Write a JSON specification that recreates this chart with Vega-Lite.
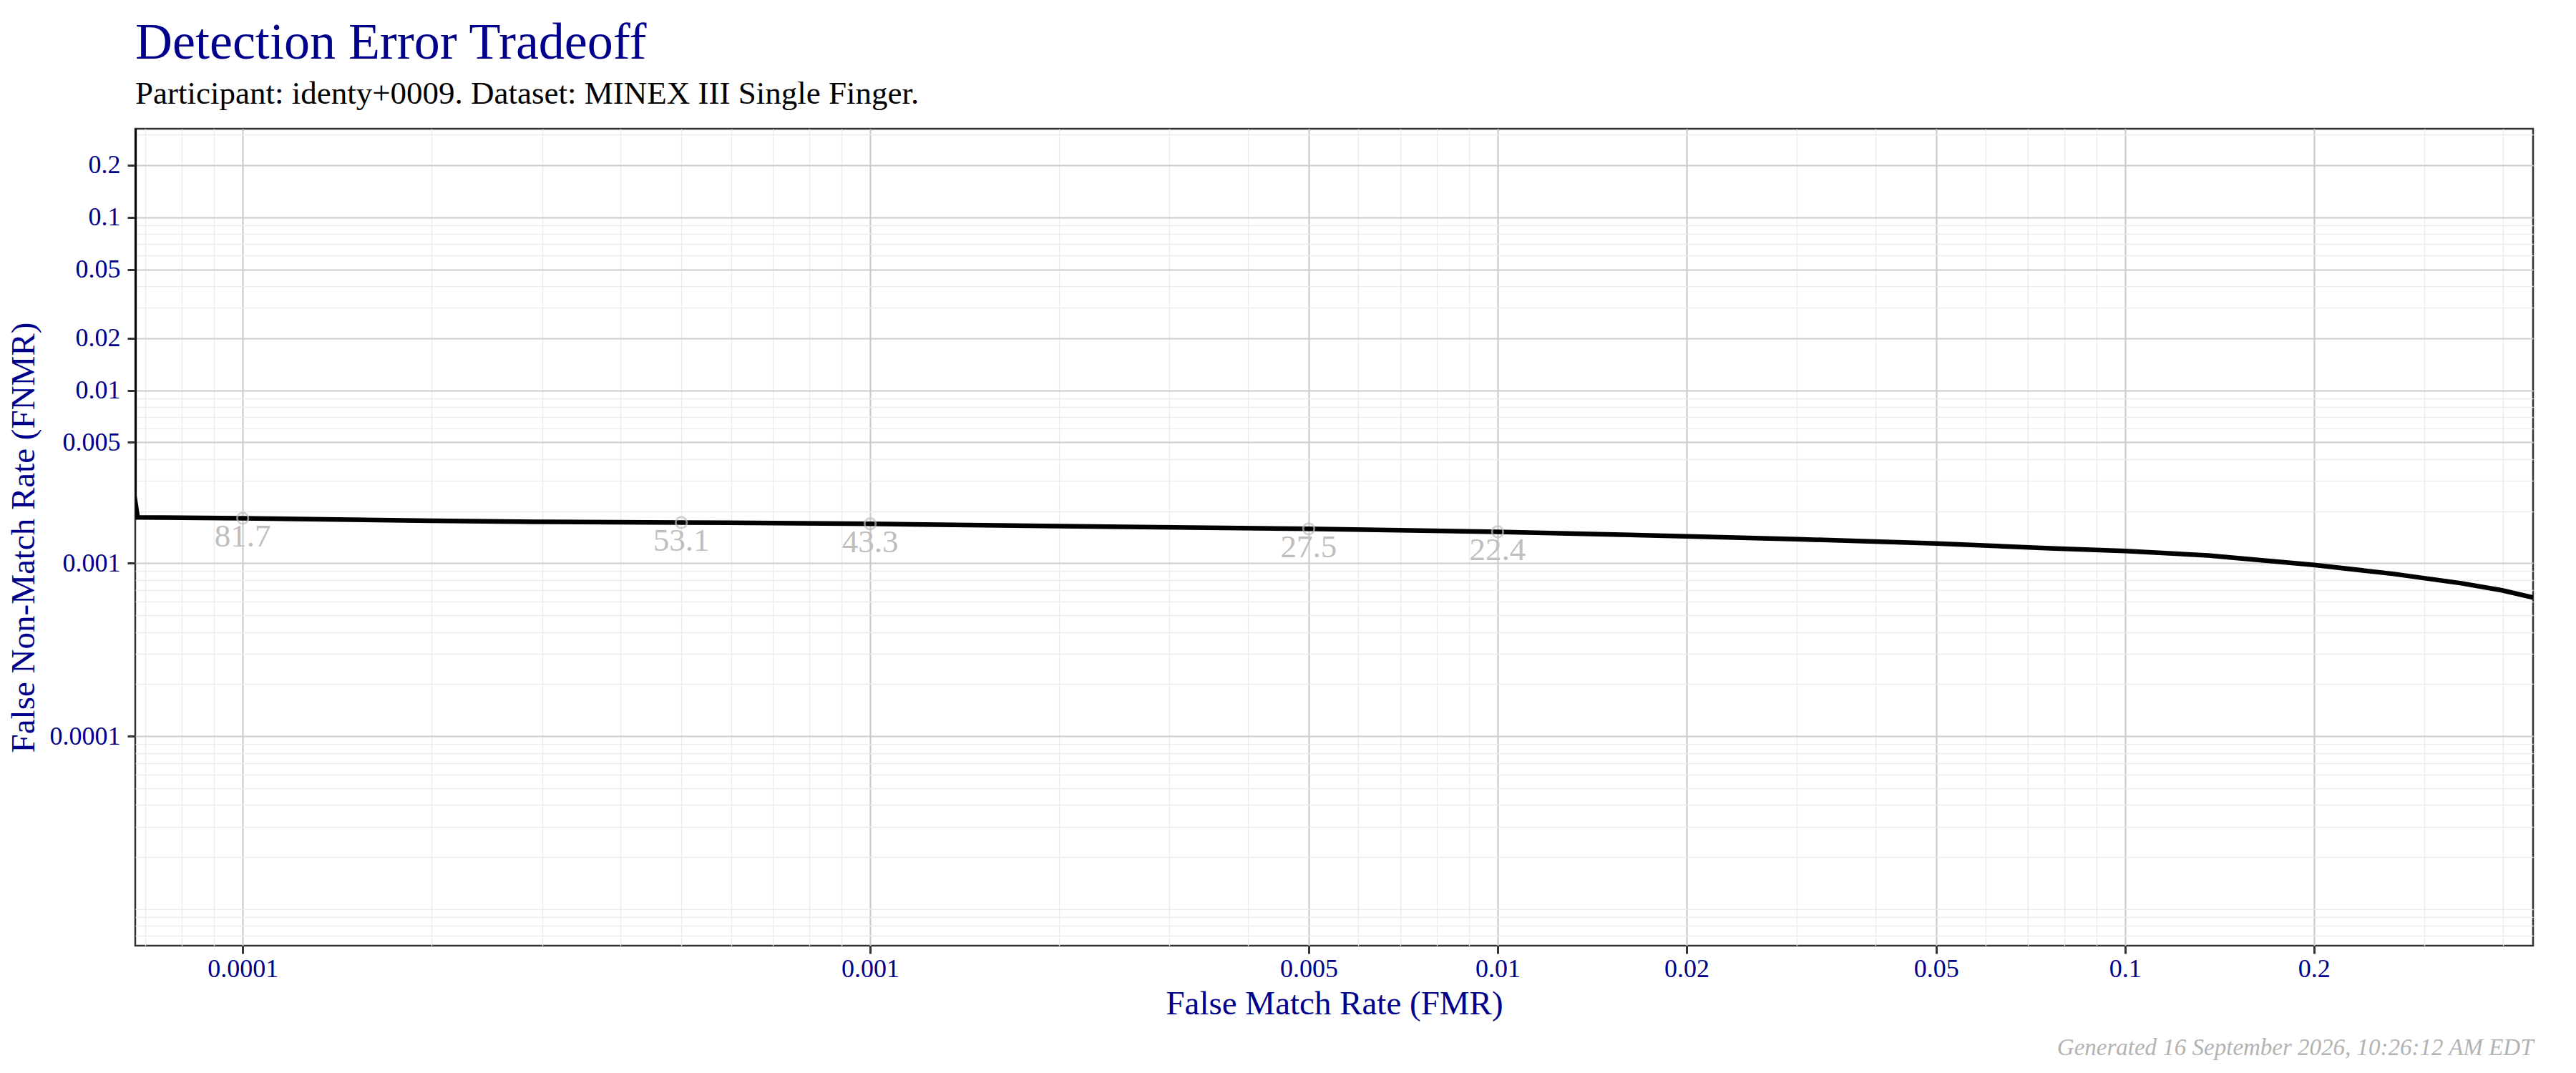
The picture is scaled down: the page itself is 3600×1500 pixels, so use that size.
{
  "$schema": "https://vega.github.io/schema/vega-lite/v6.json",
  "autosize": {"type": "none"},
  "width": 3351,
  "height": 1142,
  "padding": {"left": 189, "top": 180, "right": 60, "bottom": 178},
  "background": "white",
  "title": {
    "text": "Detection Error Tradeoff",
    "subtitle": "Participant: identy+0009. Dataset: MINEX III Single Finger.",
    "anchor": "start",
    "frame": "group",
    "font": "Liberation Serif",
    "fontSize": 72,
    "fontWeight": "normal",
    "color": "#00008B",
    "subtitleFont": "Liberation Serif",
    "subtitleFontSize": 45,
    "subtitleColor": "black",
    "subtitlePadding": 12,
    "offset": 15
  },
  "datasets": {
    "curve": [
      {"fmr": 0.0000672, "fnmr": 0.5},
      {"fmr": 0.0000672, "fnmr": 0.00245},
      {"fmr": 0.000068, "fnmr": 0.00184},
      {"fmr": 0.0001, "fnmr": 0.00182},
      {"fmr": 0.0002, "fnmr": 0.00176},
      {"fmr": 0.000294, "fnmr": 0.001736},
      {"fmr": 0.0005, "fnmr": 0.00172},
      {"fmr": 0.001, "fnmr": 0.00169},
      {"fmr": 0.002, "fnmr": 0.00164},
      {"fmr": 0.005, "fnmr": 0.00158},
      {"fmr": 0.01, "fnmr": 0.00152},
      {"fmr": 0.02, "fnmr": 0.001432},
      {"fmr": 0.03, "fnmr": 0.001378},
      {"fmr": 0.05, "fnmr": 0.001302},
      {"fmr": 0.076, "fnmr": 0.001221},
      {"fmr": 0.1, "fnmr": 0.001176},
      {"fmr": 0.1356, "fnmr": 0.00111},
      {"fmr": 0.2, "fnmr": 0.000978},
      {"fmr": 0.267, "fnmr": 0.000869},
      {"fmr": 0.3435, "fnmr": 0.000766},
      {"fmr": 0.399, "fnmr": 0.000697},
      {"fmr": 0.447, "fnmr": 0.000633}
    ],
    "thresholds": [
      {"fmr": 0.0001, "fnmr": 0.00182, "label": "81.7"},
      {"fmr": 0.0005, "fnmr": 0.00172, "label": "53.1"},
      {"fmr": 0.001, "fnmr": 0.00169, "label": "43.3"},
      {"fmr": 0.005, "fnmr": 0.00158, "label": "27.5"},
      {"fmr": 0.01, "fnmr": 0.00152, "label": "22.4"}
    ]
  },
  "encoding": {
    "y": {
      "field": "fnmr",
      "type": "quantitative",
      "title": "False Non-Match Rate (FNMR)",
      "scale": {"type": "log", "domain": [0.00000615, 0.325], "nice": false},
      "axis": {
        "values": [0.000007, 0.000008, 0.000009, 0.00001, 0.00002, 0.00003, 0.00004, 0.00005, 0.00006, 0.00007, 0.00008, 0.00009, 0.0001, 0.0002, 0.0003, 0.0004, 0.0005, 0.0006, 0.0007, 0.0008, 0.0009, 0.001, 0.002, 0.003, 0.004, 0.005, 0.006, 0.007, 0.008, 0.009, 0.01, 0.02, 0.03, 0.04, 0.05, 0.06, 0.07, 0.08, 0.09, 0.1, 0.2, 0.3],
        "format": "~g",
        "labelExpr": "indexof([0.0001, 0.001, 0.005, 0.01, 0.02, 0.05, 0.1, 0.2], datum.value) >= 0 ? datum.label : ''",
        "labelOverlap": false,
        "labelFlush": false,
        "labelPadding": 10,
        "titlePadding": 12,
        "tickColor": {"condition": {"test": "indexof([0.0001, 0.001, 0.005, 0.01, 0.02, 0.05, 0.1, 0.2], datum.value) >= 0", "value": "#333333"}, "value": "transparent"},
        "gridColor": {"condition": {"test": "indexof([0.0001, 0.001, 0.005, 0.01, 0.02, 0.05, 0.1, 0.2], datum.value) >= 0", "value": "#CCCCCC"}, "value": "#EBEBEB"},
        "gridWidth": {"condition": {"test": "indexof([0.0001, 0.001, 0.005, 0.01, 0.02, 0.05, 0.1, 0.2], datum.value) >= 0", "value": 2.2}, "value": 1.4}
      }
    }
  },
  "layer": [
    {
      "data": {"name": "curve"},
      "mark": {"type": "line", "color": "black", "strokeWidth": 6.5, "clip": true},
      "encoding": {
        "x": {
          "field": "fmr",
          "type": "quantitative",
          "title": "False Match Rate (FMR)",
          "scale": {"type": "log", "domain": [0.0000674, 0.447], "nice": false},
          "axis": {
            "orient": "bottom",
            "values": [0.00007, 0.00008, 0.00009, 0.0001, 0.0002, 0.0003, 0.0004, 0.0005, 0.0006, 0.0007, 0.0008, 0.0009, 0.001, 0.002, 0.003, 0.004, 0.005, 0.006, 0.007, 0.008, 0.009, 0.01, 0.02, 0.03, 0.04, 0.05, 0.06, 0.07, 0.08, 0.09, 0.1, 0.2, 0.3, 0.4],
            "format": "~g",
            "labelExpr": "indexof([0.0001, 0.001, 0.005, 0.01, 0.02, 0.05, 0.1, 0.2], datum.value) >= 0 ? datum.label : ''",
            "labelOverlap": false,
            "labelFlush": false,
            "labelPadding": 4,
            "titlePadding": 8,
            "tickColor": {"condition": {"test": "indexof([0.0001, 0.001, 0.005, 0.01, 0.02, 0.05, 0.1, 0.2], datum.value) >= 0", "value": "#333333"}, "value": "transparent"},
            "gridColor": {"condition": {"test": "indexof([0.0001, 0.001, 0.005, 0.01, 0.02, 0.05, 0.1, 0.2], datum.value) >= 0", "value": "#CCCCCC"}, "value": "#EBEBEB"},
            "gridWidth": {"condition": {"test": "indexof([0.0001, 0.001, 0.005, 0.01, 0.02, 0.05, 0.1, 0.2], datum.value) >= 0", "value": 2.2}, "value": 1.4}
          }
        }
      }
    },
    {
      "data": {"name": "thresholds"},
      "mark": {"type": "point", "shape": "circle", "filled": false, "stroke": "#BEBEBE", "strokeWidth": 2.8, "strokeOpacity": 1, "size": 240},
      "encoding": {
        "x": {
          "field": "fmr",
          "type": "quantitative",
          "title": "Generated 16 September 2026, 10:26:12 AM EDT",
          "axis": {
            "orient": "bottom",
            "labels": false,
            "ticks": false,
            "grid": false,
            "domain": false,
            "titleAnchor": "end",
            "titleFontStyle": "italic",
            "titleColor": "#B3B3B3",
            "titleFontSize": 33,
            "titlePadding": 126
          }
        }
      }
    },
    {
      "data": {"name": "thresholds"},
      "mark": {"type": "text", "baseline": "top", "dy": 4, "fontSize": 45, "font": "Liberation Serif", "color": "#BEBEBE"},
      "encoding": {
        "x": {"field": "fmr", "type": "quantitative", "axis": null},
        "text": {"field": "label", "type": "nominal"}
      }
    }
  ],
  "resolve": {"axis": {"x": "independent"}},
  "config": {
    "font": "Liberation Serif",
    "view": {"stroke": "#333333", "strokeWidth": 2.5},
    "axis": {
      "domain": false,
      "tickSize": 11,
      "tickWidth": 3,
      "labelFont": "Liberation Serif",
      "labelFontSize": 36,
      "labelColor": "#00008B",
      "titleFont": "Liberation Serif",
      "titleFontSize": 47,
      "titleFontWeight": "normal",
      "titleColor": "#00008B"
    }
  }
}
